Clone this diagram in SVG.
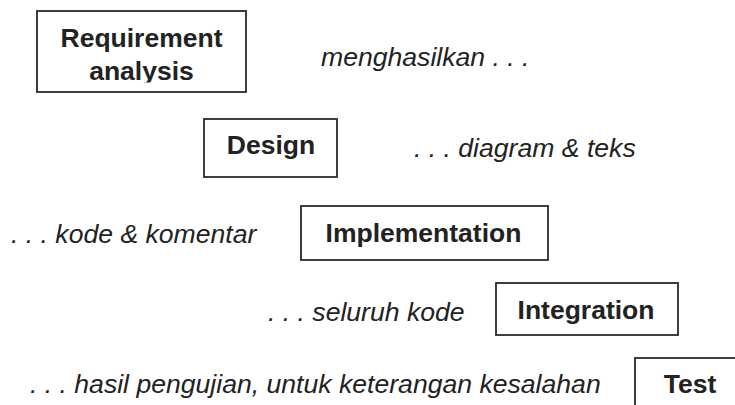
<svg xmlns="http://www.w3.org/2000/svg" width="735" height="405" viewBox="0 0 735 405">
<style>
.box{fill:#fff;stroke:#2b2b2b;stroke-width:1.8}
.t{font-family:"Liberation Sans",Arial,sans-serif;font-weight:bold;font-size:26.5px;fill:#222;text-anchor:middle}
.c{font-family:"Liberation Sans",Arial,sans-serif;font-style:italic;font-size:26.6px;fill:#222}
</style>
<defs>
<clipPath id="clipReq"><rect x="30" y="0" width="230" height="82.5"/></clipPath>
</defs>
<rect width="735" height="405" fill="#fff"/>
<g id="req">
<rect class="box" x="37" y="11" width="209" height="81"/>
<g clip-path="url(#clipReq)">
<text class="t" x="141.5" y="47">Requirement</text>
<text class="t" x="141.5" y="80">analysis</text>
</g>
</g>
<g id="design">
<rect class="box" x="204" y="119" width="133" height="58"/>
<text class="t" x="271" y="154">Design</text>
</g>
<g id="impl">
<rect class="box" x="301" y="206" width="247" height="54"/>
<text class="t" x="423.5" y="242">Implementation</text>
</g>
<g id="integ">
<rect class="box" x="496" y="283" width="182" height="52"/>
<text class="t" x="586" y="319">Integration</text>
</g>
<g id="test">
<rect class="box" x="635" y="358" width="112" height="60"/>
<text class="t" x="690" y="393">Test</text>
</g>
<g id="connectors"></g>
<g id="captions">
<text class="c" x="321" y="66">menghasilkan . . .</text>
<text class="c" x="414" y="157">. . . diagram &amp; teks</text>
<text class="c" x="11" y="243">. . . kode &amp; komentar</text>
<text class="c" x="268" y="321">. . . seluruh kode</text>
<text class="c" x="30" y="393">. . . hasil pengujian, untuk keterangan kesalahan</text>
</g>
</svg>
